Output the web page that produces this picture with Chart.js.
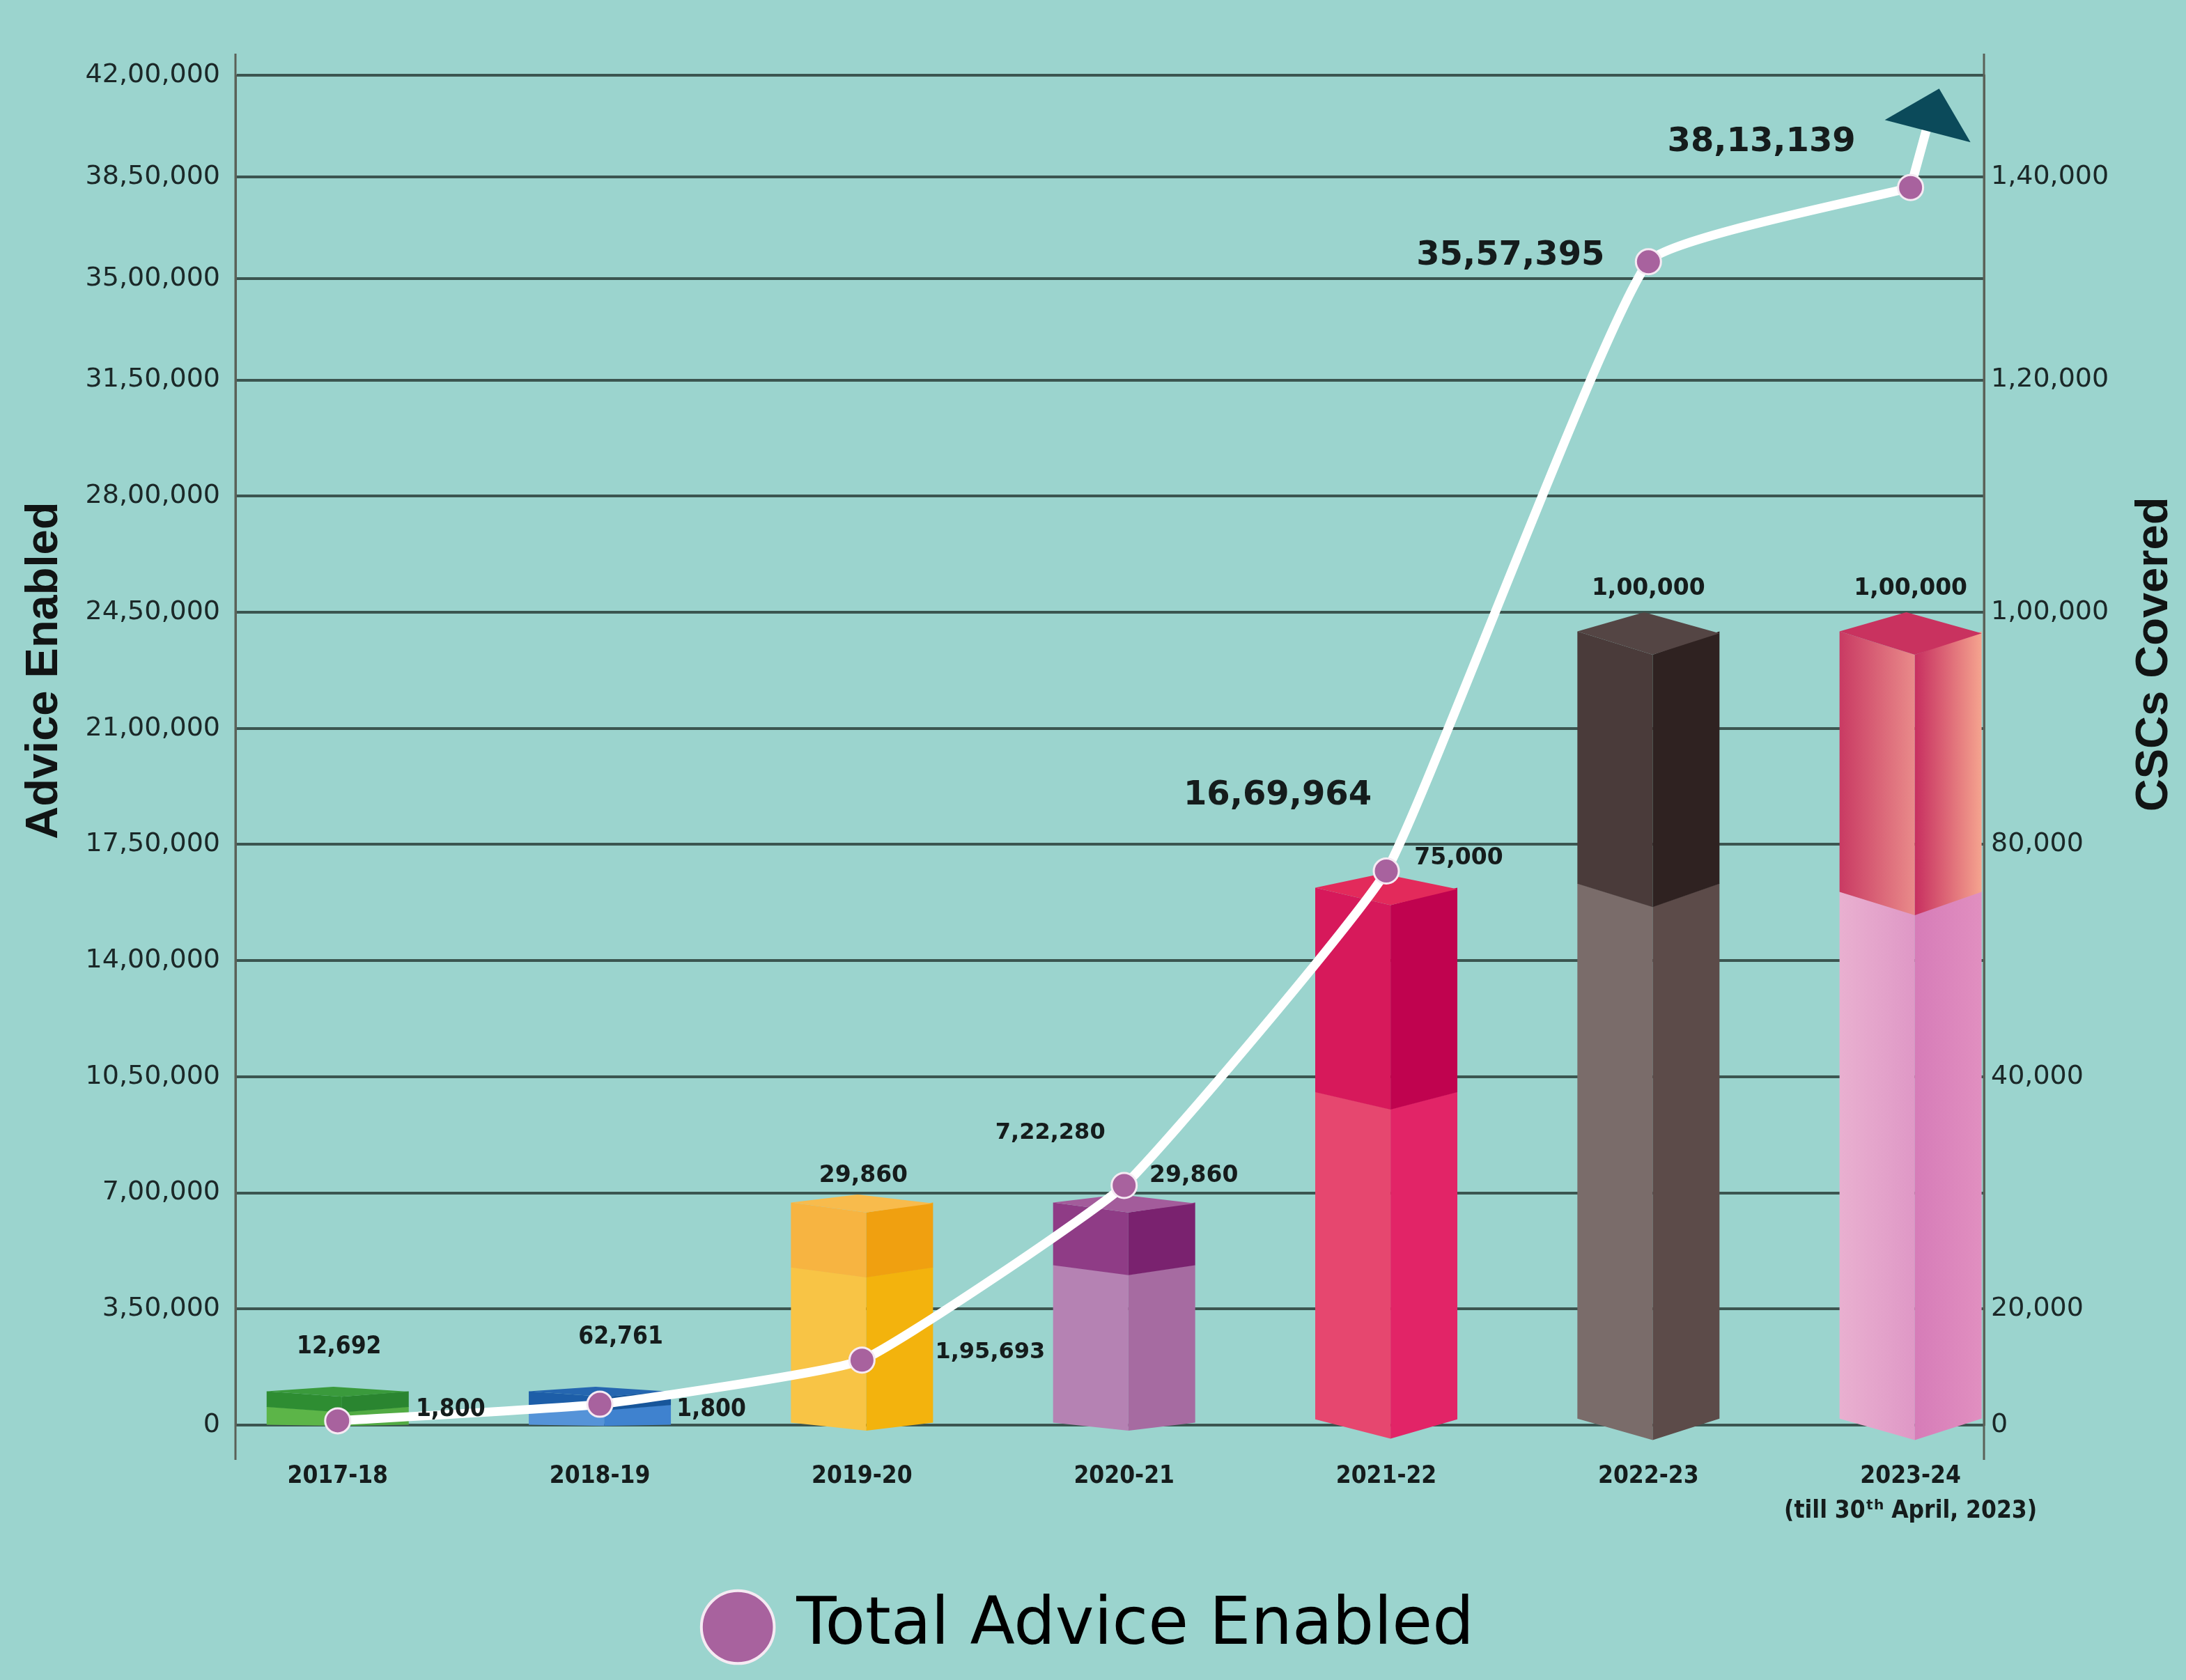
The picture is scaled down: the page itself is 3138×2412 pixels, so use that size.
<!DOCTYPE html>
<html>
<head>
<meta charset="utf-8">
<script src="https://cdn.jsdelivr.net/npm/chart.js@4.4.1/dist/chart.umd.min.js"></script>
<style>
  html, body { margin: 0; padding: 0; background: #9bd4ce; overflow: hidden; }
  #wrap { width: 3138px; height: 2412px; position: relative; }
</style>
</head>
<body>
<div id="wrap"><canvas id="c"></canvas></div>
<script>
// ---------------- DATA ----------------
const categories = ['2017-18', '2018-19', '2019-20', '2020-21', '2021-22', '2022-23', '2023-24'];
const categoryNotes = ['', '', '', '', '', '', '(till 30\u1D57\u02B0 April, 2023)'];
const totalAdviceEnabled = [12692, 62761, 195693, 722280, 1669964, 3557395, 3813139];
const cscsCovered = [1800, 1800, 29860, 29860, 75000, 100000, 100000];
const adviceTicks = [0, 350000, 700000, 1050000, 1400000, 1750000, 2100000, 2450000, 2800000, 3150000, 3500000, 3850000, 4200000];
const cscTicks = [0, 20000, 40000, 80000, 100000, 120000, 140000];
const cscAxisKnots = [0, 20000, 30000, 40000, 60000, 80000, 90000, 100000, 110000, 120000, 130000, 140000, 150000];

// ---------------- STYLE ----------------
const bgColor = '#9bd4ce';
const gridColor = '#3b5550';
const axisColor = '#5a6158';
const textColor = '#151c1c';
const pointColor = '#a8629e';
const knotWeights = [1, 1, 1, 1, 1, 1, 1, 1, 1, 0.875, 0.875, 0.875];
const COND = "'DejaVu Sans Condensed', 'DejaVu Sans', sans-serif";
const SANS = "'DejaVu Sans', sans-serif";

const barStyles = [
  { topL: '#2e8d32', topR: '#2a8530', botL: '#5cb548', botR: '#52ab43', cap: '#3a9a3c', band: 0.40 },
  { topL: '#1d5ea8', topR: '#17559a', botL: '#5593d8', botR: '#3f82cf', cap: '#2566b0', band: 0.35 },
  { topL: '#f7b441', topR: '#f0a010', botL: '#f8c445', botR: '#f3b30d', cap: '#f8bb4c', band: 0.28 },
  { topL: '#8f3c86', topR: '#7a226f', botL: '#b582b3', botR: '#a66ba1', cap: '#a35c9b', band: 0.27 },
  { topL: '#d7195b', topR: '#c0034f', botL: '#e6476f', botR: '#e22467', cap: '#e32a5b', band: 0.37 },
  { topL: '#4a3b3a', topR: '#2f2221', botL: '#7a6c6a', botR: '#5c4b49', cap: '#544544', band: 0.31 },
  { topL: ['#c93a63', '#e98b8a'], topR: ['#c72f60', '#f5a48f'], botL: ['#e9b0d0', '#df98c6'], botR: ['#d67cb8', '#e18fc0'], cap: '#c9325f', band: 0.32 }
];

// label placement (offsets from the mark, in px) and fonts
const adviceLabelStyle = [
  { dx: 2, dy: -106, font: 'bold 35px ' + COND },
  { dx: 30, dy: -96, font: 'bold 35px ' + COND },
  { dx: 184, dy: -11, font: 'bold 32px ' + SANS },
  { dx: -106, dy: -75, font: 'bold 32px ' + SANS },
  { dx: -156, dy: -108, font: 'bold 48px ' + SANS },
  { dx: -198, dy: -8, font: 'bold 48px ' + SANS },
  { dx: -214, dy: -65, font: 'bold 48px ' + SANS }
];
const cscLabelStyle = [
  { dx: 162, dy: 33, font: 'bold 35px ' + COND },
  { dx: 160, dy: 33, font: 'bold 35px ' + COND },
  { dx: 2, dy: -26, font: 'bold 33px ' + SANS },
  { dx: 100, dy: -26, font: 'bold 33px ' + SANS },
  { dx: 104, dy: -22, font: 'bold 33px ' + SANS },
  { dx: 0, dy: -34, font: 'bold 33px ' + SANS },
  { dx: 0, dy: -34, font: 'bold 33px ' + SANS }
];

function fmtIN(n) {
  const s = String(Math.round(n));
  if (s.length <= 3) return s;
  const last3 = s.slice(-3);
  let rest = s.slice(0, -3);
  const parts = [];
  while (rest.length > 2) { parts.unshift(rest.slice(-2)); rest = rest.slice(0, -2); }
  if (rest) parts.unshift(rest);
  return parts.join(',') + ',' + last3;
}

// ---------------- PIECEWISE SCALE ----------------
const axisKnots = {
  y: { knots: adviceTicks, ticks: adviceTicks, weights: knotWeights },
  y1: { knots: cscAxisKnots, ticks: cscTicks, weights: knotWeights }
};

class PiecewiseScale extends Chart.LinearScale {
  static id = 'piecewise';
  static defaults = {};
  _cfg() { return axisKnots[this.id]; }
  determineDataLimits() {
    const k = this._cfg().knots;
    this.min = k[0];
    this.max = k[k.length - 1];
  }
  buildTicks() {
    return this._cfg().ticks.map(v => ({ value: v }));
  }
  _toDecimal(v) {
    const { knots: k, weights: w } = this._cfg();
    const total = w.reduce((a, b) => a + b, 0);
    let acc = 0;
    for (let i = 0; i < k.length - 1; i++) {
      if (v <= k[i + 1] || i === k.length - 2) {
        return (acc + (v - k[i]) / (k[i + 1] - k[i]) * w[i]) / total;
      }
      acc += w[i];
    }
    return 0;
  }
  _fromDecimal(d) {
    const { knots: k, weights: w } = this._cfg();
    const total = w.reduce((a, b) => a + b, 0);
    let t = d * total, acc = 0;
    for (let i = 0; i < k.length - 1; i++) {
      if (t <= acc + w[i] || i === k.length - 2) {
        return k[i] + (t - acc) / w[i] * (k[i + 1] - k[i]);
      }
      acc += w[i];
    }
    return k[k.length - 1];
  }
  getPixelForValue(v) { return this.getPixelForDecimal(this._toDecimal(v)); }
  getValueForPixel(p) { return this._fromDecimal(this.getDecimalForPixel(p)); }
}
Chart.register(PiecewiseScale);

// ---------------- DRAW HELPERS ----------------
function paint(ctx, c, xa, xb) {
  if (Array.isArray(c)) {
    const g = ctx.createLinearGradient(xa, 0, xb, 0);
    g.addColorStop(0, c[0]); g.addColorStop(1, c[1]);
    return g;
  }
  return c;
}
function poly(ctx, pts, fill) {
  ctx.beginPath();
  ctx.moveTo(pts[0][0], pts[0][1]);
  for (let i = 1; i < pts.length; i++) ctx.lineTo(pts[i][0], pts[i][1]);
  ctx.closePath();
  ctx.fillStyle = fill;
  ctx.fill();
}

function draw3DBars(chart, meta) {
  const ctx = chart.ctx;
  const base = chart.scales.y1.getPixelForValue(0);
  ctx.save();
  meta.data.forEach((el, i) => {
    const st = barStyles[i];
    const w = el.width, x0 = el.x - w / 2, x1 = el.x + w / 2;
    const top = el.y, h = base - top;
    const d2 = Math.min(0.3 * w, 12 + 0.042 * h);
    const d1 = d2 * 0.45;
    const xm = x0 + 0.53 * w, xp = x0 + 0.47 * w;
    const vb = Math.min(0.15 * w, 0.035 * h);
    const yb = base - vb * 0.3, yt = base + vb * 0.7;
    const band = Math.max(4, h * st.band);
    poly(ctx, [[x0, top + d1 + band], [xm, top + d2 + band], [xm, yt], [x0, yb]], paint(ctx, st.botL, x0, xm));
    poly(ctx, [[xm, top + d2 + band], [x1, top + d1 + band], [x1, yb], [xm, yt]], paint(ctx, st.botR, xm, x1));
    poly(ctx, [[x0, top + d1], [xm, top + d2], [xm, top + d2 + band + 0.5], [x0, top + d1 + band + 0.5]], paint(ctx, st.topL, x0, xm));
    poly(ctx, [[xm, top + d2], [x1, top + d1], [x1, top + d1 + band + 0.5], [xm, top + d2 + band + 0.5]], paint(ctx, st.topR, xm, x1));
    poly(ctx, [[x0, top + d1], [xp, top], [x1, top + d1 * 1.1], [xm, top + d2]], paint(ctx, st.cap, x0, x1));
  });
  ctx.restore();
}

function drawArrow(chart, meta) {
  const ctx = chart.ctx;
  const last = meta.data[meta.data.length - 1];
  const px = last.x, py = last.y;
  ctx.save();
  ctx.strokeStyle = '#ffffff';
  ctx.lineWidth = 13;
  ctx.lineCap = 'round';
  ctx.beginPath();
  ctx.moveTo(px, py);
  ctx.lineTo(px + 23, py - 84);
  ctx.stroke();
  poly(ctx, [[px - 37, py - 97], [px + 41, py - 142], [px + 86, py - 65]], '#0b4a5a');
  ctx.restore();
}

const decor = {
  id: 'decor',
  beforeDraw(chart) {
    const { ctx, width, height } = chart;
    ctx.save();
    ctx.fillStyle = bgColor;
    ctx.fillRect(0, 0, width, height);
    ctx.restore();
  },
  beforeDatasetsDraw(chart) {
    const { ctx, chartArea: ca } = chart;
    ctx.save();
    ctx.strokeStyle = axisColor;
    ctx.lineWidth = 3;
    for (const x of [ca.left, ca.right]) {
      ctx.beginPath();
      ctx.moveTo(x, ca.top - 31);
      ctx.lineTo(x, ca.bottom + 50);
      ctx.stroke();
    }
    ctx.restore();
  },
  beforeDatasetDraw(chart, args) {
    const ds = chart.data.datasets[args.index];
    if (ds.type === 'bar') { draw3DBars(chart, args.meta); return false; }
    if (ds.type === 'line') drawArrow(chart, args.meta);
  },
  afterDatasetsDraw(chart) {
    const { ctx, chartArea: ca } = chart;
    ctx.save();
    ctx.fillStyle = textColor;
    ctx.textAlign = 'center';
    ctx.textBaseline = 'middle';
    const lineMeta = chart.getDatasetMeta(0);
    lineMeta.data.forEach((pt, i) => {
      const o = adviceLabelStyle[i];
      ctx.font = o.font;
      ctx.fillText(fmtIN(totalAdviceEnabled[i]), pt.x + o.dx, pt.y + o.dy);
    });
    const barMeta = chart.getDatasetMeta(1);
    barMeta.data.forEach((el, i) => {
      const o = cscLabelStyle[i];
      ctx.font = o.font;
      ctx.fillText(fmtIN(cscsCovered[i]), el.x + o.dx, el.y + o.dy);
    });
    // axis titles
    const h = ca.bottom - ca.top;
    ctx.fillStyle = '#111414';
    ctx.font = "bold 65px 'Liberation Sans', Arial, sans-serif";
    ctx.save();
    ctx.translate(ca.left - 274, ca.top + 0.441 * h);
    ctx.rotate(-Math.PI / 2);
    ctx.fillText('Advice Enabled', 0, 0);
    ctx.restore();
    ctx.save();
    ctx.translate(ca.right + 245, ca.top + 0.429 * h);
    ctx.rotate(-Math.PI / 2);
    ctx.fillText('CSCs Covered', 0, 0);
    ctx.restore();
    ctx.restore();
  }
};

// ---------------- CHART ----------------
new Chart(document.getElementById('c'), {
  type: 'bar',
  data: {
    datasets: [
      {
        type: 'line',
        label: 'Total Advice Enabled',
        data: totalAdviceEnabled.map((v, i) => ({ x: i, y: v })),
        xAxisID: 'x',
        yAxisID: 'y',
        borderColor: '#ffffff',
        borderWidth: 13,
        tension: 0.12,
        pointRadius: 18,
        pointBackgroundColor: pointColor,
        pointBorderColor: '#f6eaf3',
        pointBorderWidth: 3,
        clip: false,
        order: 0
      },
      {
        type: 'bar',
        label: 'CSCs Covered',
        data: cscsCovered.map((v, i) => ({ x: i, y: v })),
        xAxisID: 'x',
        yAxisID: 'y1',
        barThickness: 204,
        minBarLength: 55,
        backgroundColor: barStyles.map(s => Array.isArray(s.botL) ? s.botL[0] : s.botL),
        order: 1
      }
    ]
  },
  options: {
    responsive: true,
    maintainAspectRatio: false,
    animation: false,
    events: [],
    layout: { padding: { top: 108, bottom: 19, left: 0, right: 0 } },
    scales: {
      x: {
        type: 'linear',
        min: -0.39,
        max: 6.28,
        offset: false,
        grid: { display: false },
        border: { display: false },
        afterBuildTicks: s => { s.ticks = categories.map((_, i) => ({ value: i })); },
        afterFit: s => { s.height = 233; },
        ticks: {
          autoSkip: false,
          maxRotation: 0,
          minRotation: 0,
          padding: 41,
          color: textColor,
          font: { family: COND, weight: 'bold', size: 35, lineHeight: 1.43 },
          callback: v => categoryNotes[v] ? [categories[v], categoryNotes[v]] : categories[v]
        }
      },
      y: {
        type: 'piecewise',
        position: 'left',
        grid: { color: gridColor, lineWidth: 4, drawTicks: false },
        border: { display: true, color: axisColor, width: 3 },
        afterFit: s => { s.width = 338; },
        ticks: {
          padding: 22,
          color: '#1b2828',
          font: { family: SANS, size: 38 },
          callback: v => fmtIN(v)
        }
      },
      y1: {
        type: 'piecewise',
        position: 'right',
        grid: { display: false, drawTicks: false },
        border: { display: true, color: axisColor, width: 3 },
        afterFit: s => { s.width = 290; },
        ticks: {
          padding: 10,
          color: '#1b2828',
          font: { family: SANS, size: 38 },
          callback: v => fmtIN(v)
        }
      }
    },
    plugins: {
      tooltip: { enabled: false },
      legend: {
        display: true,
        position: 'bottom',
        labels: {
          usePointStyle: true,
          boxWidth: 74,
          boxHeight: 74,
          padding: 10,
          color: '#1d2222',
          font: { family: SANS, size: 94 },
          generateLabels: () => [{
            text: 'Total Advice Enabled',
            fillStyle: pointColor,
            strokeStyle: '#f6eaf3',
            lineWidth: 4,
            pointStyle: 'circle',
            hidden: false,
            datasetIndex: 0
          }]
        }
      }
    }
  },
  plugins: [decor]
});
</script>
</body>
</html>
